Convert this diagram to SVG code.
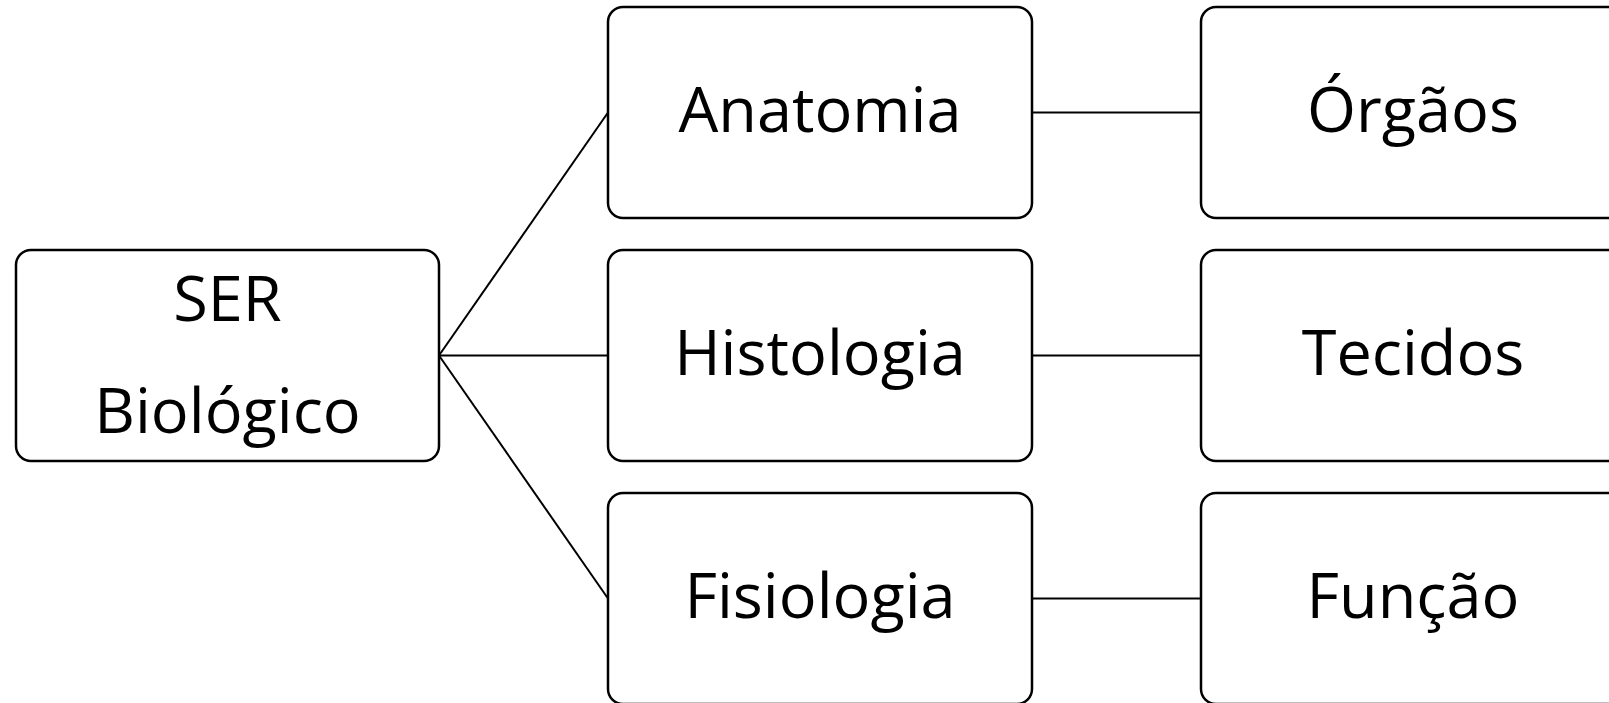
<svg xmlns="http://www.w3.org/2000/svg" width="1609" height="703" viewBox="0 0 1609 703">
<style>
.box{fill:#fff;stroke:#000;stroke-width:2.5}
.lbl{font-family:"Open Sans","Liberation Sans",sans-serif;font-size:63px;fill:#000;text-anchor:middle}
.con{stroke:#000;stroke-width:2;fill:none}
</style>
<rect width="1609" height="703" fill="#fff"/>
<g id="connectors">
<line class="con" x1="439" y1="355.5" x2="608" y2="112.5"/>
<line class="con" x1="439" y1="355.5" x2="608" y2="355.5"/>
<line class="con" x1="439" y1="355.5" x2="608" y2="598.5"/>
<line class="con" x1="1032" y1="112.5" x2="1201" y2="112.5"/>
<line class="con" x1="1032" y1="355.5" x2="1201" y2="355.5"/>
<line class="con" x1="1032" y1="598.5" x2="1201" y2="598.5"/>
</g>
<g id="node-ser">
<rect class="box" x="16" y="250" width="423" height="211" rx="15"/>
<text class="lbl" x="227.5" y="321">SER</text>
<text class="lbl" x="227.5" y="433">Biológico</text>
</g>
<g id="node-anatomia">
<rect class="box" x="608" y="7" width="424" height="211" rx="15"/>
<text class="lbl" x="820" y="132">Anatomia</text>
</g>
<g id="node-histologia">
<rect class="box" x="608" y="250" width="424" height="211" rx="15"/>
<text class="lbl" x="820" y="375">Histologia</text>
</g>
<g id="node-fisiologia">
<rect class="box" x="608" y="493" width="424" height="211" rx="15"/>
<text class="lbl" x="820" y="618">Fisiologia</text>
</g>
<g id="node-orgaos">
<rect class="box" x="1201" y="7" width="424" height="211" rx="15"/>
<text class="lbl" x="1413" y="132">Órgãos</text>
</g>
<g id="node-tecidos">
<rect class="box" x="1201" y="250" width="424" height="211" rx="15"/>
<text class="lbl" x="1413" y="375">Tecidos</text>
</g>
<g id="node-funcao">
<rect class="box" x="1201" y="493" width="424" height="211" rx="15"/>
<text class="lbl" x="1413" y="618">Função</text>
</g>
</svg>
